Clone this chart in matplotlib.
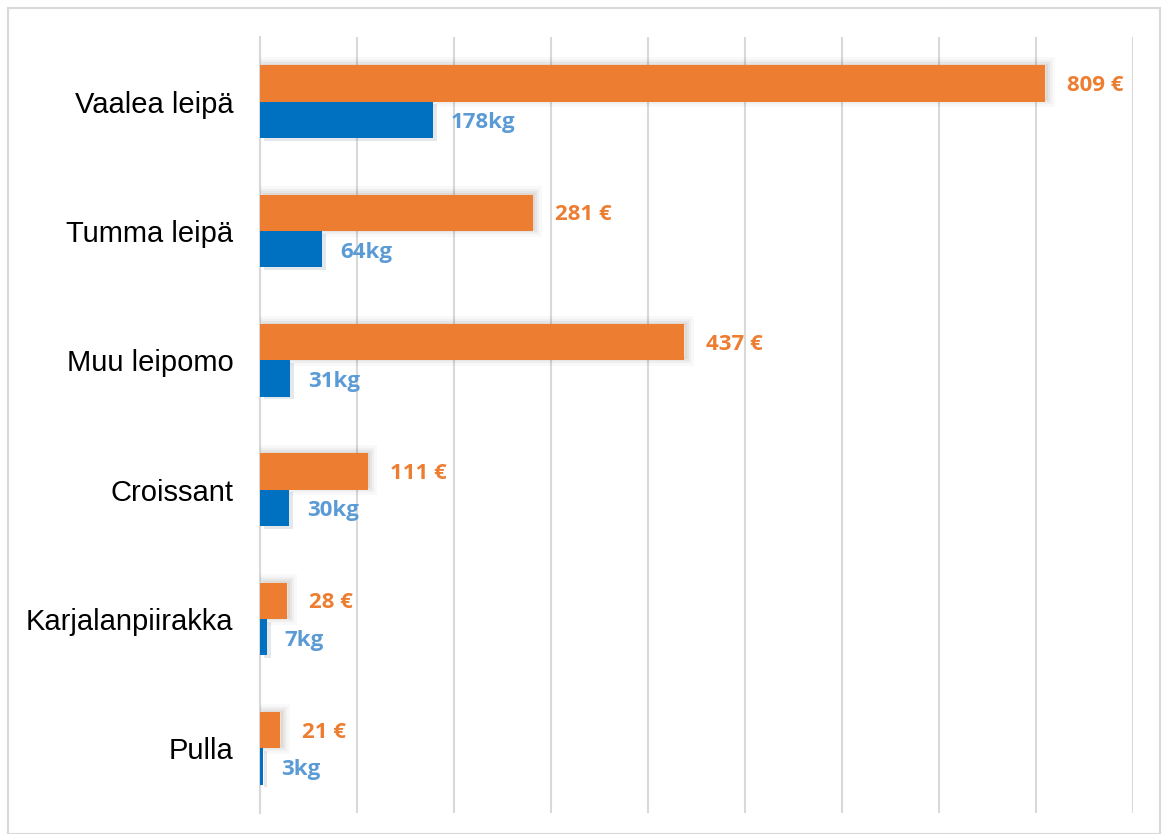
import numpy as np
import matplotlib.pyplot as plt
import matplotlib.patheffects as pe
from matplotlib.patches import Rectangle

categories = ["Vaalea leipä", "Tumma leipä", "Muu leipomo", "Croissant", "Karjalanpiirakka", "Pulla"]
euros = [809, 281, 437, 111, 28, 21]
kilos = [178, 64, 31, 30, 7, 3]

ORANGE = "#ED7D31"
BLUE = "#0070C0"
BLUE_TXT = "#5B9BD5"
GRID = "#D9D9D9"

fig = plt.figure(figsize=(11.62, 8.34), dpi=100)
ax = fig.add_axes([260 / 1162, 1 - 813 / 834, (1133 - 260) / 1162, (813 - 37) / 834])

y = np.arange(len(categories))
h = 0.28

# soft glow around bars, roughly like the office-style shadow
glow = [pe.Stroke(linewidth=w, foreground="black", alpha=a, offset=(2, 1)) for w, a in [(10, 0.025), (6, 0.035), (3, 0.045)]]
glow.append(pe.Normal())

bars_e = ax.barh(y - h / 2, euros, height=h, color=ORANGE, zorder=3)
bars_k = ax.barh(y + h / 2, kilos, height=h, color=BLUE, zorder=3)
for b in bars_e:
    b.set_path_effects(glow)
for b in bars_k:
    b.set_path_effects([pe.SimplePatchShadow(offset=(3, -2), alpha=0.1), pe.Normal()])

for yi, v in zip(y, euros):
    ax.annotate(f"{v} €", (v, yi - h / 2), xytext=(22, -2), textcoords="offset pixels",
                va="center", ha="left", color=ORANGE, fontsize=16, fontweight="bold",
                family="Open Sans")
for yi, v in zip(y, kilos):
    ax.annotate(f"{v}kg", (v, yi + h / 2), xytext=(18, -3), textcoords="offset pixels",
                va="center", ha="left", color=BLUE_TXT, fontsize=16, fontweight="bold",
                family="Open Sans")

ax.set_xlim(0, 900)
ax.set_ylim(len(categories) - 0.5, -0.5)
ax.set_xticks(np.arange(0, 901, 100))
ax.set_xticklabels([])
ax.tick_params(axis="x", length=0)
ax.tick_params(axis="y", length=0, pad=19)
ax.set_yticks(y)
ax.set_yticklabels(categories, fontsize=21, family="Liberation Sans")
ax.grid(axis="x", color=GRID, linewidth=1.5, zorder=0)
for s in ["top", "right", "bottom"]:
    ax.spines[s].set_visible(False)
ax.spines["left"].set_color(GRID)
ax.spines["left"].set_linewidth(1.5)

fig.patches.append(Rectangle((8 / 1162, 0), 1152 / 1162, 1 - 8 / 834, transform=fig.transFigure,
                             fill=False, edgecolor=GRID, linewidth=1.5))

fig.savefig("out.png", dpi=100)
